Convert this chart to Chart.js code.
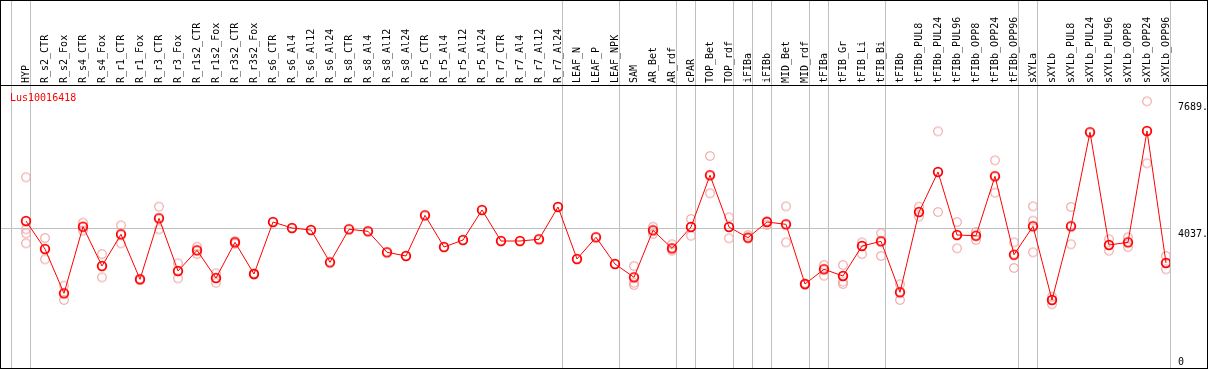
<!DOCTYPE html>
<html>
<head>
<meta charset="utf-8">
<script src="https://cdn.jsdelivr.net/npm/chart.js@4/dist/chart.umd.min.js"></script>
<style>
  html, body { margin: 0; padding: 0; background: #fff; }
  #wrap { width: 1209px; height: 370px; }
</style>
</head>
<body>
<div id="wrap"><canvas id="expr-chart" width="1209" height="370"></canvas></div>
<script>
// expression profile for Lus10016418

const geneName = 'Lus10016418';

const categories = [
    'HYP', 'R_s2_CTR', 'R_s2_Fox', 'R_s4_CTR', 'R_s4_Fox', 'R_r1_CTR', 'R_r1_Fox',
    'R_r3_CTR', 'R_r3_Fox', 'R_r1s2_CTR', 'R_r1s2_Fox', 'R_r3s2_CTR', 'R_r3s2_Fox',
    'R_s6_CTR', 'R_s6_Al4', 'R_s6_Al12', 'R_s6_Al24', 'R_s8_CTR', 'R_s8_Al4',
    'R_s8_Al12', 'R_s8_Al24', 'R_r5_CTR', 'R_r5_Al4', 'R_r5_Al12', 'R_r5_Al24',
    'R_r7_CTR', 'R_r7_Al4', 'R_r7_Al12', 'R_r7_Al24', 'LEAF_N', 'LEAF_P', 'LEAF_NPK',
    'SAM', 'AR_Bet', 'AR_rdf', 'cPAR', 'TOP_Bet', 'TOP_rdf', 'iFIBa', 'iFIBb',
    'MID_Bet', 'MID_rdf', 'tFIBa', 'tFIB_Gr', 'tFIB_Li', 'tFIB_Bi', 'tFIBb',
    'tFIBb_PUL8', 'tFIBb_PUL24', 'tFIBb_PUL96', 'tFIBb_OPP8', 'tFIBb_OPP24', 'tFIBb_OPP96',
    'sXYLa', 'sXYLb', 'sXYLb_PUL8', 'sXYLb_PUL24', 'sXYLb_PUL96', 'sXYLb_OPP8',
    'sXYLb_OPP24', 'sXYLb_OPP96'
];

// mean expression per sample
const meanVals = [
    4238, 3431, 2153, 4075, 2941, 3855, 2557, 4316, 2797, 3393, 2595, 3624, 2711,
    4210, 4037, 3979, 3047, 4000, 3942, 3336, 3230, 4403, 3489, 3691, 4556,
    3662, 3662, 3711, 4643, 3143, 3769, 2999,
    2615, 3970, 3451, 4066, 5557, 4066, 3758, 4210, 4143, 2422,
    2846, 2653, 3518, 3653, 2183, 4498, 5652, 3835, 3815, 5528, 3267,
    4086, 1961, 4086, 6797, 3547, 3624, 6834, 3028
];

// single replicates (faint circles)
const repVals = [
    [5499, 4000, 3884, 3596], [3749, 3134], [2374, 1961], [4190, 3960], [3287, 2615],
    [4114, 3596], [2557, 2557], [4652, 4000], [3019, 2586], [3498, 3287], [2731, 2460],
    [3660, 3590], [2730, 2690],
    [], [], [], [], [], [], [], [], [], [], [], [], [], [], [], [], [], [], [],
    [2941, 2460, 2393], [4075, 3864], [3567, 3383], [4297, 3815], [6113, 5038],
    [4345, 3740], [3835, 3740], [4239, 4124], [4662, 3624], [2440, 2400],
    [2970, 2662], [2970, 2489, 2422], [3624, 3287], [3884, 3230], [2413, 1961],
    [4652, 4363], [6825, 4498], [4210, 3451], [3922, 3691], [5989, 5055], [3624, 2884],
    [4662, 4248, 3336], [2056, 1837], [4643, 3567], [], [3711, 3383], [3769, 3489],
    [7689, 5903], [3230, 2846]
];

// right-hand tick labels
const yTicks = [0, 4037, 7689];
const yTickLabels = ['0', '4037.', '7689.'];
const yMax = 8132;

// group separators sit just after these sample indexes
const groupEnds = [-1, 0, 28, 31, 34, 35, 37, 38, 39, 41, 42, 45, 52, 53, 60];

const FONT = '10px "DejaVu Sans Mono", monospace';
const GRID = '#c0c0c0';

function makeMarker(color, lw) {
    const c = document.createElement('canvas');
    c.width = 14;
    c.height = 14;
    const g = c.getContext('2d');
    g.strokeStyle = color;
    g.lineWidth = lw;
    g.beginPath();
    g.arc(7, 7, 4.3, 0, Math.PI * 2);
    g.stroke();
    return c;
}

const mainMarker = makeMarker('#ff0000', 1.8);
const repMarker = makeMarker('#f0a0a0', 1.1);

const mainPoints = meanVals.map((v, i) => ({ x: i, y: v }));
const repPoints = [];
repVals.forEach((arr, i) => arr.forEach(v => repPoints.push({ x: i, y: v })));

const framePlugin = {
    id: 'frame',
    beforeDatasetsDraw(chart) {
        const ctx = chart.ctx;
        const xs = chart.scales.x;
        const ys = chart.scales.y;
        const a = chart.chartArea;
        ctx.save();
        ctx.strokeStyle = GRID;
        ctx.lineWidth = 1;
        // vertical group lines, full height
        groupEnds.forEach(k => {
            const px = Math.round(xs.getPixelForValue(k + 0.21)) + 0.5;
            ctx.beginPath();
            ctx.moveTo(px, 0);
            ctx.lineTo(px, a.bottom);
            ctx.stroke();
        });
        // horizontal line at the middle tick
        const gy = Math.round(ys.getPixelForValue(yTicks[1])) + 0.5;
        ctx.beginPath();
        ctx.moveTo(a.left, gy);
        ctx.lineTo(xs.getPixelForValue(60.21), gy);
        ctx.stroke();
        ctx.restore();
    },
    afterDraw(chart) {
        const ctx = chart.ctx;
        const xs = chart.scales.x;
        const ys = chart.scales.y;
        ctx.save();
        ctx.font = FONT;
        // rotated sample names
        ctx.fillStyle = '#000';
        ctx.textAlign = 'left';
        ctx.textBaseline = 'middle';
        categories.forEach((name, i) => {
            ctx.save();
            ctx.translate(xs.getPixelForValue(i), 83);
            ctx.rotate(-Math.PI / 2);
            ctx.fillText(name, 0, 0);
            ctx.restore();
        });
        // y labels on the right
        yTicks.forEach((v, j) => {
            const py = ys.getPixelForValue(v);
            ctx.textBaseline = v === 0 ? 'bottom' : 'top';
            ctx.fillText(yTickLabels[j], 1178, v === 0 ? py - 1 : py + 1);
        });
        // gene name
        ctx.fillStyle = '#ff0000';
        ctx.textBaseline = 'middle';
        ctx.fillText(geneName, 10, 98);
        // black frame
        ctx.strokeStyle = '#000';
        ctx.lineWidth = 1;
        ctx.strokeRect(0.5, 0.5, 1207, 368);
        ctx.beginPath();
        ctx.moveTo(0, 85.5);
        ctx.lineTo(1208, 85.5);
        ctx.stroke();
        ctx.restore();
    }
};

const exprChart = new Chart(document.getElementById('expr-chart'), {
    type: 'line',
    data: {
        datasets: [
            {
                label: 'mean',
                data: mainPoints,
                borderColor: '#ff0000',
                borderWidth: 1,
                pointStyle: mainMarker,
                tension: 0,
                order: 0,
            },
            {
                label: 'replicates',
                type: 'scatter',
                data: repPoints,
                pointStyle: repMarker,
                showLine: false,
                order: 1,
            },
        ],
    },
    options: {
        responsive: false,
        animation: false,
        layout: {
            autoPadding: false,
            padding: { left: 1, right: 39, top: 86, bottom: 2 }
        },
        plugins: {
            legend: { display: false },
            tooltip: { enabled: false },
        },
        scales: {
            x: {
                type: 'linear',
                display: false,
                min: -25 / 19,
                max: -25 / 19 + 1169 / 19,
            },
            y: {
                display: false,
                min: 0,
                max: yMax,
            }
        }
    },
    plugins: [framePlugin]
});
</script>
</body>
</html>
